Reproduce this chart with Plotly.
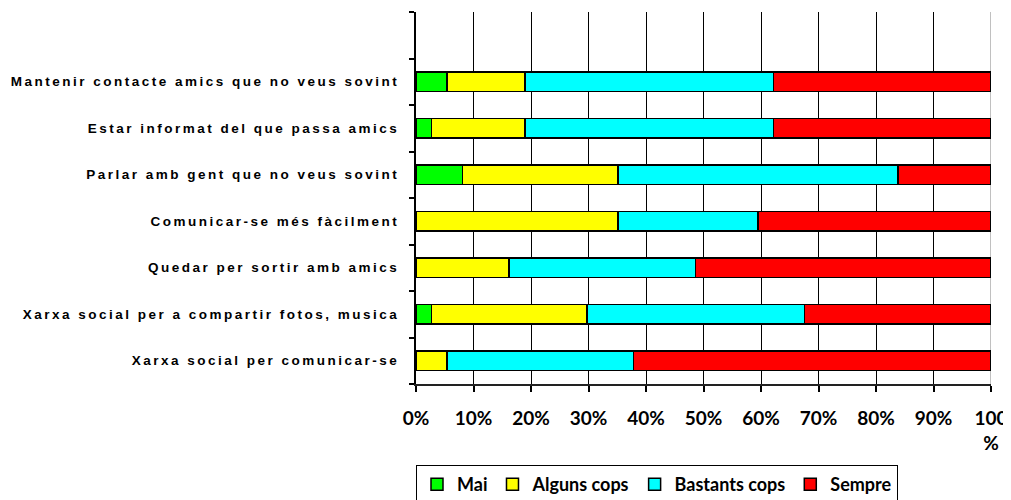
import plotly.graph_objects as go

# ── data (percent of answers, top row first) ─────────────────
categories = [
    "Mantenir contacte amics que no veus sovint",
    "Estar informat del que passa amics",
    "Parlar amb gent que no veus sovint",
    "Comunicar-se més fàcilment",
    "Quedar per sortir amb amics",
    "Xarxa social per a compartir fotos, musica",
    "Xarxa social per comunicar-se",
]
mai = [5.4, 2.7, 8.1, 0, 0, 2.7, 0]
alguns_cops = [13.5, 16.2, 27.0, 35.1, 16.2, 27.0, 5.4]
bastants_cops = [43.2, 43.2, 48.6, 24.3, 32.4, 37.8, 32.4]
sempre = [37.8, 37.8, 16.2, 40.5, 51.4, 32.4, 62.2]

x_tickvals = [0, 10, 20, 30, 40, 50, 60, 70, 80, 90, 100]
x_ticktext = ["0%", "10%", "20%", "30%", "40%", "50%", "60%", "70%", "80%", "90%", "100<br>%"]

series = [
    ("Mai", mai, "#00FF00"),
    ("Alguns cops", alguns_cops, "#FFFF00"),
    ("Bastants cops", bastants_cops, "#00FFFF"),
    ("Sempre", sempre, "#FF0000"),
]

fig = go.Figure()
for name, vals, col in series:
    fig.add_trace(go.Bar(
        y=categories, x=vals, name=name, orientation="h",
        marker=dict(color=col, line=dict(color="black", width=1.5)),
    ))

# extra empty slot on top, like the original
cat_order = list(reversed(categories)) + [" "]
y_ticktext = ['<span style="letter-spacing:2.5px">' + c + "</span>" for c in categories] + [""]

# page body has an 8px margin, so the figure is 8px smaller each way
fig.update_layout(
    barmode="stack",
    barnorm="percent",
    bargap=0.58,
    width=1003, height=492,
    margin=dict(l=408, r=20, t=4, b=116, autoexpand=False),
    plot_bgcolor="white", paper_bgcolor="white",
    font=dict(family="Liberation Sans", color="black"),
    legend=dict(
        orientation="h", x=0, xanchor="left", y=-0.218, yanchor="top",
        bordercolor="black", borderwidth=1, bgcolor="white",
        font=dict(family="Lato", size=18, weight="bold"),
        traceorder="normal", itemwidth=30,
    ),
    showlegend=True,
)

fig.update_xaxes(
    range=[0, 100], tickmode="array", tickvals=x_tickvals, ticktext=x_ticktext,
    showgrid=True, gridcolor="black", gridwidth=1.3,
    showline=True, linecolor="#222", linewidth=2,
    ticks="outside", ticklen=6, tickcolor="black", tickwidth=1.5,
    tickfont=dict(family="Lato", size=19, weight="bold"),
    ticklabelstandoff=10, zeroline=False, automargin=False,
)
fig.update_yaxes(
    type="category", categoryorder="array", categoryarray=cat_order,
    range=[-0.5, 7.5], tickmode="array",
    tickvals=categories + [" "], ticktext=y_ticktext,
    tickson="boundaries", ticks="outside", ticklen=5, tickcolor="black", tickwidth=1.5,
    showline=True, linecolor="black", linewidth=2, showgrid=False,
    tickfont=dict(family="Liberation Sans", size=13.5, weight="bold"),
    ticklabelstandoff=12, automargin=False,
)

# light grey right edge of the plot area
fig.add_shape(type="line", xref="x", yref="paper", x0=100, x1=100, y0=0, y1=1,
              line=dict(color="#c0c0c0", width=2), layer="between")

fig.write_html("out.html")
